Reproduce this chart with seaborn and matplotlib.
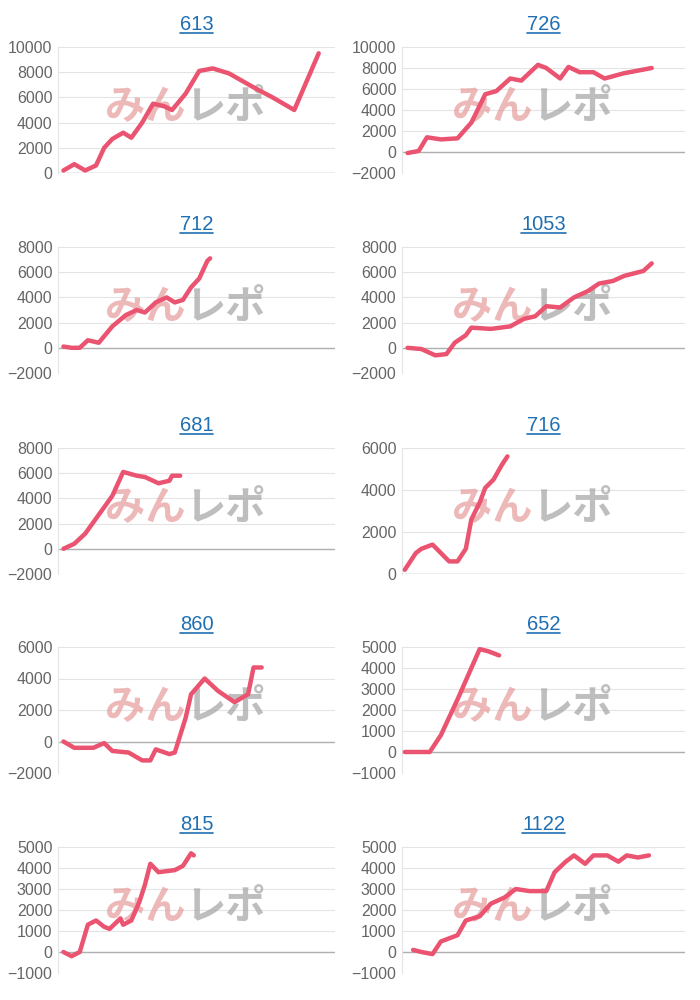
import matplotlib.pyplot as plt
import seaborn as sns
import pandas as pd

titles = ['613', '726', '712', '1053', '681', '716', '860', '652', '815', '1122']

# x = progress along the (fixed) x axis, 0-100; y = value
x_613 = [1, 5, 9, 13, 16, 19, 23, 26, 30, 34, 38, 41, 46, 51, 56, 62, 71, 78, 86, 95]
y_613 = [200, 700, 200, 600, 2000, 2700, 3200, 2800, 4000, 5500, 5300, 5000, 6300, 8100, 8300, 7900, 6800, 6000, 5000, 9500]
x_726 = [1, 5, 8, 13, 19, 24, 29, 33, 38, 42, 48, 51, 56, 59, 63, 68, 72, 79, 89]
y_726 = [-100, 100, 1400, 1200, 1300, 2800, 5500, 5800, 7000, 6800, 8300, 8000, 7000, 8100, 7600, 7600, 7000, 7500, 8000]
x_712 = [1, 4, 7, 10, 14, 19, 24, 28, 31, 35, 39, 42, 45, 48, 51, 54, 55]
y_712 = [100, 0, 0, 600, 400, 1700, 2600, 3000, 2800, 3600, 4000, 3600, 3800, 4800, 5500, 6900, 7100]
x_1053 = [1, 6, 11, 15, 18, 22, 24, 31, 38, 43, 47, 51, 56, 61, 66, 70, 75, 79, 86, 89]
y_1053 = [0, -100, -600, -500, 400, 1000, 1600, 1500, 1700, 2300, 2500, 3300, 3200, 4000, 4500, 5100, 5300, 5700, 6100, 6700]
x_681 = [1, 5, 9, 15, 19, 23, 28, 31, 36, 40, 41, 44]
y_681 = [0, 400, 1200, 3000, 4200, 6100, 5800, 5700, 5200, 5400, 5800, 5800]
x_716 = [0, 4, 6, 10, 13, 16, 19, 22, 24, 27, 29, 32, 35, 37]
y_716 = [200, 1000, 1200, 1400, 1000, 600, 600, 1200, 2600, 3400, 4100, 4500, 5200, 5600]
x_860 = [1, 5, 12, 16, 19, 25, 30, 33, 35, 40, 42, 46, 48, 53, 58, 64, 69, 71, 74]
y_860 = [0, -400, -400, -100, -600, -700, -1200, -1200, -500, -800, -700, 1500, 3000, 4000, 3200, 2500, 3000, 4700, 4700]
x_652 = [0, 4, 9, 13, 19, 24, 27, 30, 34]
y_652 = [0, 0, 0, 800, 2500, 4000, 4900, 4800, 4600]
x_815 = [1, 4, 7, 10, 13, 16, 18, 22, 23, 26, 29, 31, 33, 36, 42, 45, 48, 49]
y_815 = [0, -200, 0, 1300, 1500, 1200, 1100, 1600, 1300, 1500, 2400, 3200, 4200, 3800, 3900, 4100, 4700, 4600]
x_1122 = [3, 6, 10, 13, 19, 22, 27, 31, 36, 40, 45, 51, 54, 58, 61, 65, 68, 73, 77, 80, 84, 88]
y_1122 = [100, 0, -100, 500, 800, 1500, 1700, 2300, 2600, 3000, 2900, 2900, 3800, 4300, 4600, 4200, 4600, 4600, 4300, 4600, 4500, 4600]

xs = [x_613, x_726, x_712, x_1053, x_681, x_716, x_860, x_652, x_815, x_1122]
ys = [y_613, y_726, y_712, y_1053, y_681, y_716, y_860, y_652, y_815, y_1122]
yticks = [
    [0, 2000, 4000, 6000, 8000, 10000],
    [-2000, 0, 2000, 4000, 6000, 8000, 10000],
    [-2000, 0, 2000, 4000, 6000, 8000],
    [-2000, 0, 2000, 4000, 6000, 8000],
    [-2000, 0, 2000, 4000, 6000, 8000],
    [0, 2000, 4000, 6000],
    [-2000, 0, 2000, 4000, 6000],
    [-1000, 0, 1000, 2000, 3000, 4000, 5000],
    [-1000, 0, 1000, 2000, 3000, 4000, 5000],
    [-1000, 0, 1000, 2000, 3000, 4000, 5000],
]

sns.set_style('white')
plt.rcParams['font.family'] = ['Liberation Sans', 'DejaVu Sans']

fig = plt.figure(figsize=(7, 10), dpi=100)
W, H = 700, 1000
lefts = [58, 402]
widths = [277, 283]
tops = [47, 247, 448, 647, 847]
ax_h = 126
link = '#1f6fb2'

for i, t in enumerate(titles):
    r, c = divmod(i, 2)
    ticks = yticks[i]
    ax = fig.add_axes([lefts[c] / W, 1 - (tops[r] + ax_h) / H, widths[c] / W, ax_h / H])
    df = pd.DataFrame({'x': xs[i], 'y': ys[i]})
    sns.lineplot(data=df, x='x', y='y', ax=ax, color='#ea5470', linewidth=3.2, zorder=3)
    ax.set_xlim(-1, 101)
    ax.set_ylim(ticks[0], ticks[-1])
    ax.set_yticks(ticks)
    ax.set_xticks([])
    ax.set_xlabel('')
    ax.set_ylabel('')
    ax.tick_params(axis='y', labelsize=11.5, labelcolor='#666666', length=0, pad=4)
    for v in ticks:
        ax.axhline(v, color='#e4e4e4', linewidth=0.8, zorder=0)
    ax.axhline(0, color='#b0b0b0', linewidth=1, zorder=1)
    for s in ['top', 'right', 'bottom']:
        ax.spines[s].set_visible(False)
    ax.spines['left'].set_color('#e4e4e4')
    ax.spines['left'].set_linewidth(0.8)
    ax.set_title(t, fontsize=14.5, color=link, pad=12)
    # watermark
    ax.text(0.46, 0.52, 'みん', transform=ax.transAxes, fontsize=29, fontweight='bold',
            color='#e8a0a0', alpha=0.75, ha='right', va='center', style='italic',
            family=['Noto Sans CJK JP'], zorder=2)
    ax.text(0.46, 0.52, 'レポ', transform=ax.transAxes, fontsize=29, fontweight='bold',
            color='#a8a8a8', alpha=0.75, ha='left', va='center', style='italic',
            family=['Noto Sans CJK JP'], zorder=2)

# underline titles like links
fig.canvas.draw()
renderer = fig.canvas.get_renderer()
for ax in fig.axes:
    bb = ax.title.get_window_extent(renderer).transformed(fig.transFigure.inverted())
    fig.add_artist(plt.Line2D([bb.x0, bb.x1], [bb.y0 + 0.001, bb.y0 + 0.001],
                              color=link, linewidth=1.2))

fig.savefig('out.png', dpi=100, facecolor='white')
